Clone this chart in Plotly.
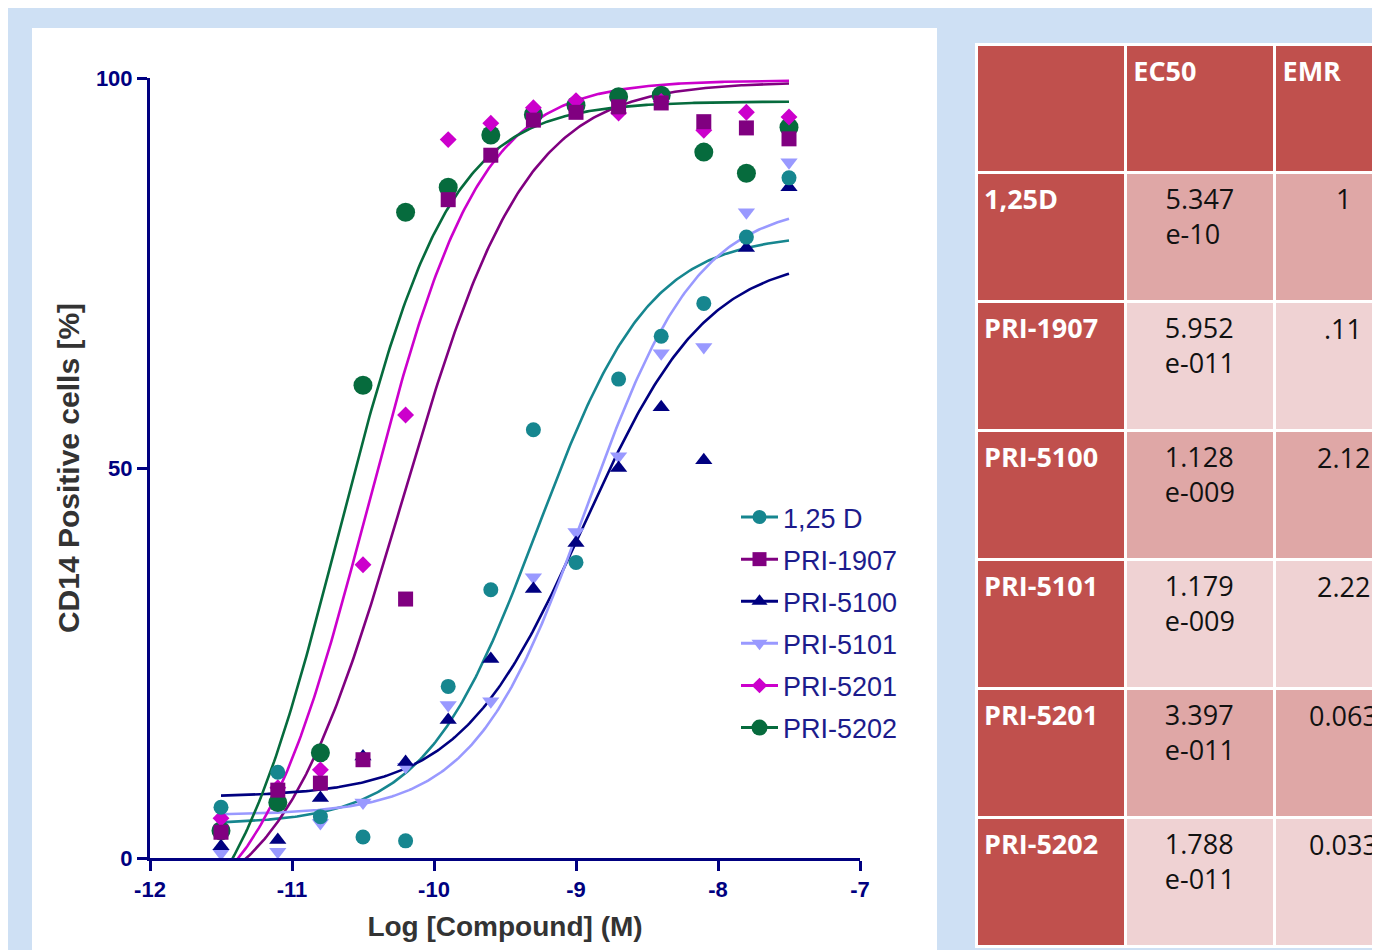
import numpy as np
import plotly.graph_objects as go

# ---------------- data ----------------
log_conc = [-11.5, -11.1, -10.8, -10.5, -10.2, -9.9, -9.6, -9.3, -9.0, -8.7, -8.4, -8.1, -7.8, -7.5]

series_names = ["1,25 D", "PRI-1907", "PRI-5100", "PRI-5101", "PRI-5201", "PRI-5202"]

d125    = [6.5, 11.0, 5.3, 2.7, 2.2, 22.0, 34.4, 54.9, 37.9, 61.4, 66.9, 71.1, 79.6, 87.2]
pri1907 = [3.3, 8.7, 9.6, 12.6, 33.2, 84.4, 90.1, 94.6, 95.6, 96.3, 96.8, 94.4, 93.6, 92.2]
pri5100 = [1.5, 2.3, 7.7, 13.0, 12.3, 17.7, 25.5, 34.5, 40.4, 50.0, 57.8, 51.0, 78.2, 86.0]
pri5101 = [0.6, 0.8, 4.5, 7.1, 11.7, 19.6, 20.1, 36.0, 41.8, 51.5, 64.7, 65.5, 82.8, 89.2]
pri5201 = [5.1, 9.0, 11.3, 37.6, 56.8, 92.1, 94.2, 96.2, 97.1, 95.5, 97.0, 93.3, 95.6, 95.0]
pri5202 = [3.5, 7.1, 13.5, 60.6, 82.8, 86.0, 92.7, 95.3, 96.5, 97.6, 97.8, 90.5, 87.8, 93.7]

# four-parameter logistic fit parameters
fit_bottom = [4.3, -8.0, 7.8, 5.5, -10.0, -15.0]
fit_top    = [80.0, 99.5, 77.3, 84.0, 99.7, 97.0]
fit_logec50 = [-9.272, -10.225, -8.948, -8.929, -10.469, -10.68]
fit_hill   = [1.1, 1.0, 1.0, 1.1, 1.1, 1.1]

x_tick_vals = [-12, -11, -10, -9, -8, -7]
x_tick_text = ["-12", "-11", "-10", "-9", "-8", "-7"]
y_tick_vals = [0, 50, 100]
y_tick_text = ["0", "50", "100"]

# table
tbl_compounds = ["1,25D", "PRI-1907", "PRI-5100", "PRI-5101", "PRI-5201", "PRI-5202"]
tbl_ec50_mant = ["5.347", "5.952", "1.128", "1.179", "3.397", "1.788"]
tbl_ec50_exp  = ["e-10", "e-011", "e-009", "e-009", "e-011", "e-011"]
tbl_emr       = ["1", ".11", "2.12", "2.22", "0.063", "0.033"]
tbl_headers   = ["", "EC50", "EMR"]

# ---------------- style ----------------
series_values = [d125, pri1907, pri5100, pri5101, pri5201, pri5202]
colors  = ["#16868f", "#800080", "#000080", "#9999ff", "#cc00cc", "#066b3d"]
symbols = ["circle", "square", "triangle-up", "triangle-down", "diamond", "circle"]
msizes  = [15, 15, 15, 15, 13, 19]
legsizes = [14, 14, 14, 14, 12, 16]

OFF = 8                      # page body margin
W, H = 1380 - OFF, 950 - OFF
def px_x(p): return (p - OFF) / W
def px_y(p): return (950 - p) / H

NAVY = "#000080"
fig = go.Figure()

def four_pl(x, b, t, c, h):
    return b + (t - b) / (1 + 10 ** ((c - x) * h))

x_fit = np.linspace(min(log_conc), max(log_conc), 300)

# fitted curves
for i in range(6):
    fig.add_trace(go.Scatter(
        x=x_fit, y=four_pl(x_fit, fit_bottom[i], fit_top[i], fit_logec50[i], fit_hill[i]),
        mode="lines", line=dict(color=colors[i], width=2.6), showlegend=False,
        hoverinfo="skip"))

# points (reverse order so first data set sits on top)
for i in reversed(range(6)):
    fig.add_trace(go.Scatter(
        x=log_conc, y=series_values[i], mode="markers", name=series_names[i],
        marker=dict(color=colors[i], symbol=symbols[i], size=msizes[i], line=dict(width=0)),
        showlegend=False, cliponaxis=False))

# legend entries
for i in range(6):
    fig.add_trace(go.Scatter(
        x=[None], y=[None], mode="lines+markers", name=series_names[i],
        legendgroup=series_names[i],
        line=dict(color=colors[i], width=3),
        marker=dict(color=colors[i], symbol=symbols[i], size=legsizes[i])))

# table
dark_cell = "#c0504d"
pink_a = "#dfa7a6"
pink_b = "#efd2d3"
row_fill = [pink_a if r % 2 == 0 else pink_b for r in range(len(tbl_compounds))]
ec50_text = [m + "<br>" + e for m, e in zip(tbl_ec50_mant, tbl_ec50_exp)]
HEADER_H, ROW_H, TBL_TOP = 128, 129, 44

fig.add_trace(go.Table(
    domain=dict(x=[px_x(976), 1.0], y=[0.0, px_y(TBL_TOP)]),
    columnwidth=[150, 150, 105],
    header=dict(values=["<b>%s</b>" % h if h else "" for h in tbl_headers],
                fill_color=dark_cell, align="left", height=HEADER_H,
                line=dict(color="white", width=3),
                font=dict(family="Open Sans", size=27, color="white")),
    cells=dict(values=[["<b>%s</b>" % c for c in tbl_compounds], ec50_text, [""] * 6],
               fill_color=[[dark_cell] * 6, row_fill, row_fill],
               align=["left", "center", "center"], height=ROW_H,
               line=dict(color="white", width=3),
               font=dict(family="Open Sans", size=27,
                         color=["white", "#111111", "#111111"]))
))

# EMR column values (column is cropped at the right page edge)
annotations = []
for k, v in enumerate(tbl_emr):
    row_top = TBL_TOP + HEADER_H + ROW_H * k
    annotations.append(dict(
        x=px_x(1343), y=px_y(row_top + 27), xref="paper", yref="paper",
        xanchor="center", yanchor="middle", text=v, showarrow=False,
        font=dict(family="Open Sans", size=27, color="#111111")))

shapes = [dict(type="rect", xref="paper", yref="paper",
               x0=px_x(32), x1=px_x(937), y0=0, y1=px_y(28),
               fillcolor="white", line=dict(width=0), layer="below")]

axis_font = dict(family="Liberation Sans, Arial", size=22, color=NAVY, weight="bold")

fig.update_layout(
    width=W, height=H,
    margin=dict(l=0, r=0, t=0, b=0, autoexpand=False),
    paper_bgcolor="#cee0f4",
    plot_bgcolor="white",
    showlegend=True,
    annotations=annotations,
    shapes=shapes,
    legend=dict(x=px_x(736), y=px_y(493), xanchor="left", yanchor="top",
                bgcolor="rgba(0,0,0,0)", itemwidth=37, tracegroupgap=4,
                font=dict(family="Liberation Sans, Arial", size=27, color="#1c1c8c")),
    xaxis=dict(domain=[px_x(150), px_x(860)], range=[-12, -7], automargin=False,
               tickvals=x_tick_vals, ticktext=x_tick_text,
               ticks="outside", ticklen=10, tickwidth=3, tickcolor=NAVY,
               showline=True, linecolor=NAVY, linewidth=3,
               showgrid=False, zeroline=False, tickfont=axis_font,
               title=dict(text="Log [Compound] (M)",
                          font=dict(family="Liberation Sans, Arial", size=28,
                                    color="#333333", weight="bold"))),
    yaxis=dict(domain=[px_y(858), px_y(78)], range=[0, 100], automargin=False,
               tickvals=y_tick_vals, ticktext=y_tick_text,
               ticks="outside", ticklen=10, tickwidth=3, tickcolor=NAVY,
               showline=True, linecolor=NAVY, linewidth=3,
               showgrid=False, zeroline=False, tickfont=axis_font,
               title=dict(text="CD14 Positive cells [%]", standoff=8,
                          font=dict(family="Liberation Sans, Arial", size=30,
                                    color="#333333", weight="bold"))),
)

fig.write_html("out.html")
